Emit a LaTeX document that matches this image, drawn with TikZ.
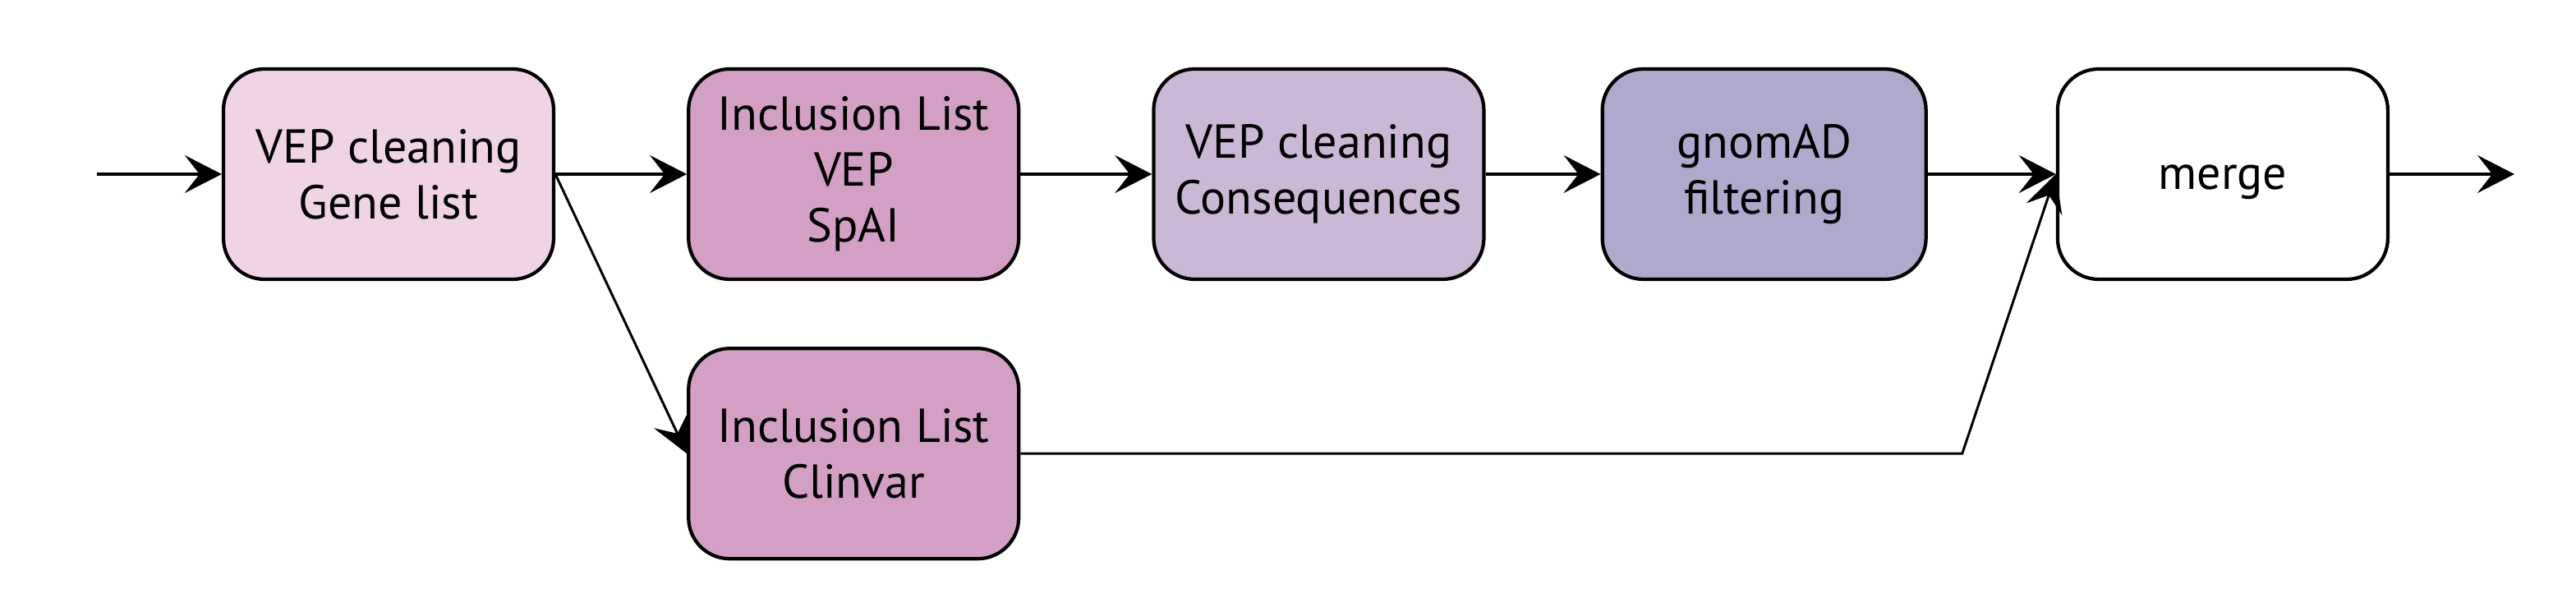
\documentclass[tikz,border=0pt]{standalone}
\usepackage{fontspec}
\setmainfont{PT Sans}
\usepackage{xcolor}
\usepackage{tikz}
\usetikzlibrary{arrows.meta, positioning, calc}
\definecolor{genepink}{HTML}{F0D4E6}
\definecolor{inclpink}{HTML}{D49FC5}
\definecolor{conslilac}{HTML}{CBB7D6}
\definecolor{gnomlilac}{HTML}{B1A8CE}
\tikzstyle{stepbox} = [rectangle, rounded corners=0.5cm, minimum width=4.02cm, minimum height=2.56cm, align=center, draw=black, line width=1.2pt, font=\fontsize{16.5}{19.4}\selectfont, inner sep=2pt]
\tikzstyle{arrow} = [line width=1.1pt, -{Stealth[length=4.5mm, width=4.6mm, inset=1.8mm]}]
\tikzstyle{thinarrow} = [line width=0.85pt, -{Stealth[length=4.5mm, width=4.6mm, inset=1.8mm]}]

\begin{document}
\begin{tikzpicture}[node distance=1.6cm]
    \useasboundingbox (0,0) rectangle (31.36,7.28);
    \node (gene) [stepbox, fill=genepink] at (4.73,5.16) {VEP cleaning\\Gene list};
    \node (inclvep) [stepbox, fill=inclpink, right=of gene] {Inclusion List\\VEP\\SpAI};
    \node (cons) [stepbox, fill=conslilac, right=of inclvep] {VEP cleaning\\Consequences};
    \node (gnomad) [stepbox, fill=gnomlilac, minimum width=3.94cm, right=1.4cm of cons] {gnomAD\\filtering};
    \node (merge) [stepbox, fill=white, right=1.56cm of gnomad] {\raisebox{-5.2pt}[0pt][0pt]{merge}};
    \node (clinvar) [stepbox, fill=inclpink, below=0.8cm of inclvep] {Inclusion List\\Clinvar};

    \coordinate [left=1.52cm of gene] (in);
    \coordinate [right=1.52cm of merge] (out);
    \coordinate (bend) at ($(merge.west |- clinvar.east) + (-1.14,0)$);

    \draw [arrow] (in) -- (gene);
    \draw [arrow] (gene) -- (inclvep);
    \draw [thinarrow] (gene.east) -- (clinvar.west);
    \draw [arrow] (inclvep) -- (cons);
    \draw [arrow] (cons) -- (gnomad);
    \draw [arrow] (gnomad) -- (merge);
    \draw [thinarrow] (clinvar.east) -- (bend) -- (merge.west);
    \draw [arrow] (merge) -- (out);
\end{tikzpicture}
\end{document}
